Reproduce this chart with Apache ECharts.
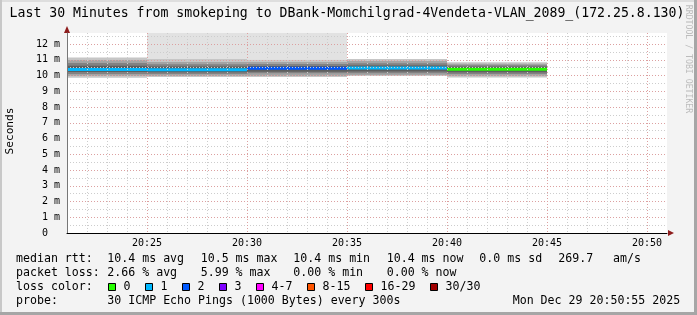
<!DOCTYPE html>
<html><head><meta charset="utf-8">
<script src="https://cdn.jsdelivr.net/npm/echarts@6/dist/echarts.min.js"></script>
<style>html,body{margin:0;padding:0;background:#f3f3f3;}#c{width:697px;height:315px;}</style>
</head><body><div id="c"></div>
<script>
// ---- data ----
const titleText = 'Last 30 Minutes from smokeping to DBank-Momchilgrad-4Vendeta-VLAN_2089_(172.25.8.130)';
const segStart = ['20:20', '20:25', '20:30', '20:35', '20:40'];
const segEnd   = ['20:25', '20:30', '20:35', '20:40', '20:45'];
const medianMs = [10.39, 10.36, 10.46, 10.48, 10.40];
const lostPings = [1, 1, 2, 1, 0];
const greyAbove = [false, true, true, false, false];
const smoke1Lo = [9.86, 9.90, 9.90, 9.97, 9.87];
const smoke1Hi = [11.14, 11.05, 11.00, 11.05, 10.85];
const smoke2Lo = [9.97, 9.97, 9.97, 10.03, 9.97];
const smoke2Hi = [10.98, 10.86, 10.86, 10.92, 10.75];
const smoke3Lo = [10.10, 10.10, 10.14, 10.14, 10.10];
const smoke3Hi = [10.80, 10.72, 10.73, 10.78, 10.66];
const smoke4Lo = [10.22, 10.20, 10.24, 10.25, 10.20];
const smoke4Hi = [10.62, 10.58, 10.60, 10.64, 10.55];
const xRange = ['20:21', '20:51'];
const xTickLabels = ['20:25', '20:30', '20:35', '20:40', '20:45', '20:50'];
const yMaxMs = 12.7;
const rttLabel = 'median rtt:';
const rttStats = ['10.4 ms avg', '10.5 ms max', '10.4 ms min', '10.4 ms now', '0.0 ms sd', '269.7', 'am/s'];
const lossLabel = 'packet loss:';
const lossStats = ['2.66 % avg', '5.99 % max', '0.00 % min', '0.00 % now'];
const lossColorLabel = 'loss color:';
const lossLegendLabels = ['0', '1', '2', '3', '4-7', '8-15', '16-29', '30/30'];
const lossLegendColors = ['#26ff00', '#00b8ff', '#0059ff', '#7e00ff', '#ff00ff', '#ff5500', '#ff0000', '#a10000'];
const probeLabel = 'probe:';
const probeText = '30 ICMP Echo Pings (1000 Bytes) every 300s';
const dateText = 'Mon Dec 29 20:50:55 2025';
const creditText = 'RRDTOOL / TOBI OETIKER';
const yName = 'Seconds';

// ---- helpers ----
const FONT = '"DejaVu Sans Mono", monospace';
const toMin = s => { const p = s.split(':').map(Number); return p[0] * 60 + p[1]; };
const pad = n => (n < 10 ? '0' : '') + n;
const fmtMin = v => pad(Math.floor(v / 60)) + ':' + pad(Math.round(v % 60));
function lossIndex(n) {
  if (n <= 3) return n;
  if (n <= 7) return 4;
  if (n <= 15) return 5;
  if (n <= 29) return 6;
  return 7;
}
const xMin = toMin(xRange[0]), xMax = toMin(xRange[1]);

function rectRender(color) {
  return function (params, api) {
    const p0 = api.coord([api.value(0), api.value(3)]);
    const p1 = api.coord([api.value(1), api.value(2)]);
    const cs = params.coordSys;
    const shape = echarts.graphic.clipRectByRect(
      { x: p0[0], y: p0[1], width: p1[0] - p0[0], height: p1[1] - p0[1] },
      { x: cs.x, y: cs.y, width: cs.width, height: cs.height });
    return shape ? { type: 'rect', shape: shape, style: { fill: color } } : null;
  };
}
function bandSeries(lo, hi, color, name) {
  return {
    type: 'custom', name: name, z: -1, silent: true,
    renderItem: rectRender(color),
    encode: { x: [0, 1], y: [2, 3] },
    data: segStart.map((s, i) => [toMin(s), toMin(segEnd[i]), lo[i], hi[i]])
  };
}

const MAJOR = '#dca0a0', MINOR = '#cdcdcd';
const xLineColors = [];
for (let v = xMin; v <= xMax; v++) xLineColors.push(xTickLabels.indexOf(fmtMin(v)) >= 0 ? MAJOR : MINOR);
const yLineColors = [];
for (let i = 0; i * 0.5 <= yMaxMs; i++) yLineColors.push(i % 2 === 0 ? MAJOR : MINOR);
yLineColors.push('rgba(0,0,0,0)');

const greyData = [];
segStart.forEach((s, i) => { if (greyAbove[i]) greyData.push([toMin(s), toMin(segEnd[i]), smoke1Hi[i], yMaxMs]); });

const series = [
  { type: 'custom', name: 'grey', z: -1, silent: true, renderItem: rectRender('#e2e2e2'),
    encode: { x: [0, 1], y: [2, 3] }, data: greyData },
  bandSeries(smoke1Lo, smoke1Hi, '#c6c6c6', 'smoke1'),
  bandSeries(smoke2Lo, smoke2Hi, '#a4a4a4', 'smoke2'),
  bandSeries(smoke3Lo, smoke3Hi, '#828282', 'smoke3'),
  bandSeries(smoke4Lo, smoke4Hi, '#5e5e5e', 'smoke4'),
  { type: 'custom', name: 'median', z: -1, silent: true,
    encode: { x: [0, 1], y: 2 },
    data: segStart.map((s, i) => [toMin(s), toMin(segEnd[i]), medianMs[i], lossIndex(lostPings[i])]),
    renderItem: function (params, api) {
      const a = api.coord([api.value(0), api.value(2)]);
      const b = api.coord([api.value(1), api.value(2)]);
      const cs = params.coordSys;
      const x1 = Math.max(a[0], cs.x), x2 = Math.min(b[0], cs.x + cs.width);
      if (x2 <= x1) return null;
      return { type: 'line', shape: { x1: x1, y1: a[1], x2: x2, y2: b[1] },
        style: { stroke: lossLegendColors[api.value(3)], lineWidth: 3 } };
    } }
];

// ---- graphic texts ----
const graphic = [];
const txt = (x, y, text, extra) => Object.assign({ type: 'text', x: x, y: y, silent: true,
  style: Object.assign({ text: text, font: '11.6px ' + FONT, fill: '#000', align: 'left', verticalAlign: 'middle' }, (extra || {})) });
graphic.push(txt(347, 14, titleText, { font: '13.2px ' + FONT, align: 'center' }));
graphic.push(Object.assign(txt(10, 131, yName, { font: '11.2px ' + FONT, align: 'center' }), { rotation: Math.PI / 2 }));
graphic.push(Object.assign(txt(688, 59, creditText, { font: '8.2px ' + FONT, align: 'center', fill: '#bcbcbc' }), { rotation: -Math.PI / 2 }));
const cols = [107.3, 200.7, 293.3, 386.7, 479.3, 558.3, 613];
graphic.push(txt(16, 259, rttLabel));
rttStats.forEach((s, i) => graphic.push(txt(cols[i], 259, s)));
graphic.push(txt(16, 273, lossLabel));
lossStats.forEach((s, i) => graphic.push(txt(cols[i], 273, s)));
graphic.push(txt(16, 287, lossColorLabel));
let sx = 108.5;
lossLegendLabels.forEach((lab, i) => {
  graphic.push({ type: 'rect', silent: true, shape: { x: sx, y: 283.5, width: 7, height: 7 },
    style: { fill: lossLegendColors[i], stroke: '#000', lineWidth: 1 } });
  graphic.push(txt(sx + 15, 287, lab));
  sx = sx + 15 + lab.length * 7 + 15;
});
graphic.push(txt(16, 301, probeLabel));
graphic.push(txt(107.3, 301, probeText));
graphic.push(txt(512.7, 301, dateText));
// axis arrows
graphic.push({ type: 'polygon', silent: true, shape: { points: [[64, 33], [67, 26], [70, 33]] }, style: { fill: '#8e1c1c' } });
graphic.push({ type: 'polygon', silent: true, shape: { points: [[668, 230], [674, 233], [668, 236]] }, style: { fill: '#8e1c1c' } });
// frame
graphic.push({ type: 'rect', silent: true, z: 100, shape: { x: 0, y: 0, width: 697, height: 2 }, style: { fill: '#dedede' } });
graphic.push({ type: 'rect', silent: true, z: 100, shape: { x: 0, y: 0, width: 2, height: 315 }, style: { fill: '#c8c8c8' } });
graphic.push({ type: 'rect', silent: true, z: 100, shape: { x: 694, y: 0, width: 3, height: 315 }, style: { fill: '#a6a6a6' } });
graphic.push({ type: 'rect', silent: true, z: 100, shape: { x: 0, y: 312, width: 697, height: 3 }, style: { fill: '#a6a6a6' } });

const option = {
  animation: false,
  backgroundColor: '#f3f3f3',
  textStyle: { fontFamily: FONT },
  grid: { left: 67, right: 30, top: 33, bottom: 82, show: true, backgroundColor: '#ffffff', borderWidth: 0, z: -2 },
  xAxis: {
    type: 'value', min: xMin, max: xMax, interval: 1,
    axisLine: { show: true, onZero: false, lineStyle: { color: '#000', width: 1 } },
    axisTick: { show: false },
    axisLabel: { margin: 5, fontSize: 10, color: '#000', fontFamily: FONT,
      formatter: v => (xTickLabels.indexOf(fmtMin(v)) >= 0 ? fmtMin(v) : '') },
    splitLine: { show: true, showMaxLine: false, lineStyle: { color: xLineColors, type: [1, 2], width: 1 } }
  },
  yAxis: {
    type: 'value', min: 0, max: yMaxMs, interval: 0.5,
    axisLine: { show: true, lineStyle: { color: '#777', width: 1 } },
    axisTick: { show: false },
    axisLabel: { margin: 7, fontSize: 10, color: '#000', fontFamily: FONT, showMaxLabel: false,
      formatter: v => {
        if (Math.abs(v - Math.round(v)) > 1e-6 || v > 12.5) return '';
        return Math.round(v) === 0 ? '0  ' : Math.round(v) + ' m';
      } },
    splitLine: { show: true, showMaxLine: false, lineStyle: { color: yLineColors, type: [1, 2], width: 1 } }
  },
  series: series,
  graphic: graphic
};
const chart = echarts.init(document.getElementById('c'), null, { renderer: 'canvas' });
chart.setOption(option);
</script>
</body></html>
